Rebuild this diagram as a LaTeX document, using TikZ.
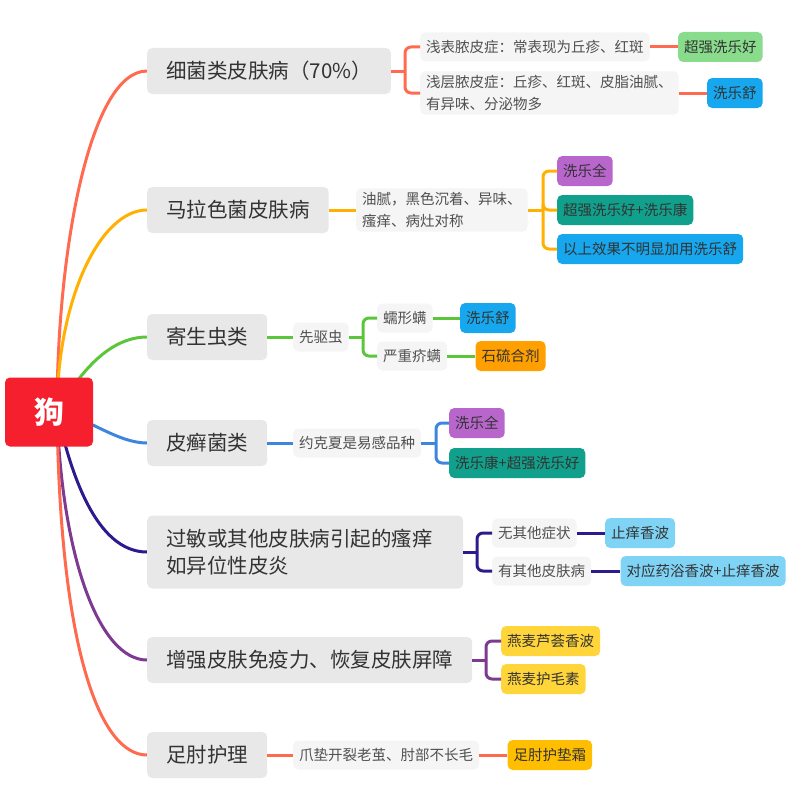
\documentclass[tikz,border=0pt]{standalone}
\usepackage{fontspec}
\setmainfont{Noto Sans CJK SC}
\usetikzlibrary{positioning,backgrounds}
\definecolor{rootred}{HTML}{F51F2E}
\definecolor{topicgray}{HTML}{E8E8E8}
\definecolor{subgray}{HTML}{F5F5F5}
\definecolor{textdark}{HTML}{333333}
\definecolor{textmid}{HTML}{505050}
\definecolor{c1}{HTML}{FF6A50}
\definecolor{c2}{HTML}{FFB000}
\definecolor{c3}{HTML}{5CC63A}
\definecolor{c4}{HTML}{3D85DE}
\definecolor{c5}{HTML}{2D1B8E}
\definecolor{c6}{HTML}{7E3990}
\definecolor{c7}{HTML}{FF6A4F}
\definecolor{lgreen}{HTML}{88DC8C}
\definecolor{lblue}{HTML}{16A7EE}
\definecolor{lpurple}{HTML}{B866CC}
\definecolor{lteal}{HTML}{11A08C}
\definecolor{lsky}{HTML}{7FD4F6}
\definecolor{lyellow}{HTML}{FFD53A}
\definecolor{lamber}{HTML}{FFBF00}
\definecolor{lorange}{HTML}{FFA000}
\tikzset{base/.style={rounded corners=5pt,anchor=west,inner ysep=4pt}}
\tikzset{root/.style={base,anchor=center,fill=rootred,text=white,
                      minimum width=88pt,minimum height=69pt,
                      font=\fontsize{30}{30}\selectfont\bfseries}}
\tikzset{topic/.style={base,fill=topicgray,text=textdark,inner xsep=19pt,
                       minimum height=46pt,font=\fontsize{20.5}{27}\selectfont}}
\tikzset{sub/.style={base,fill=subgray,text=textmid,inner xsep=6pt,
                     minimum height=29pt,align=left,font=\fontsize{14.5}{22}\selectfont}}
\tikzset{leaf/.style={base,text=textdark,inner xsep=6pt,
                      minimum height=30pt,font=\fontsize{14.5}{22}\selectfont}}
\tikzset{link/.style={line width=3pt}}
\tikzset{fork/.style={link,rounded corners=6pt}}

\begin{document}
\begin{tikzpicture}[x=1pt,y=-1pt]
\useasboundingbox (0,0) rectangle (800,800);

    % root
    \node[root] (dog) at (49,412) {狗};
    \coordinate (o) at ([xshift=8pt]dog.center);

    % main topics
    \node[topic] (b1) at (147,71) {细菌类皮肤病（70\%）};
    \node[topic] (b2) at (147,210) {马拉色菌皮肤病};
    \node[topic] (b3) at (147,337) {寄生虫类};
    \node[topic] (b4) at (147,443) {皮癣菌类};
    \node[topic,text width=278pt,align=left,minimum height=73pt] (b5) at (147,552)
        {过敏或其他皮肤病引起的瘙痒\\如异位性皮炎};
    \node[topic] (b6) at (147,660) {增强皮肤免疫力、恢复皮肤屏障};
    \node[topic] (b7) at (147,755) {足肘护理};

    % bacteria
    \node[sub] (s11) at (420,47) {浅表脓皮症：常表现为丘疹、红斑};
    \node[sub] (s12) at (420,93) {浅层脓皮症：丘疹、红斑、皮脂油腻、\\有异味、分泌物多};
    \node[leaf,fill=lgreen,right=28pt of s11] (l11) {超强洗乐好};
    \node[leaf,fill=lblue,right=28pt of s12] (l12) {洗乐舒};
    \coordinate (k1) at (405,71);
    \draw[link,c1] (b1.east) -- (k1);
    \foreach \s in {s11,s12} \draw[fork,c1] (k1) |- (\s.west);
    \draw[link,c1] (s11) -- (l11);
    \draw[link,c1] (s12) -- (l12);

    % malassezia
    \node[sub] (s21) at (356,210) {油腻，黑色沉着、异味、\\瘙痒、病灶对称};
    \node[leaf,fill=lpurple] (l21) at (557,171) {洗乐全};
    \node[leaf,fill=lteal] (l22) at (557,210) {超强洗乐好+洗乐康};
    \node[leaf,fill=lblue] (l23) at (557,249) {以上效果不明显加用洗乐舒};
    \coordinate (k2) at (543,210);
    \draw[link,c2] (b2) -- (s21);
    \draw[link,c2] (s21.east) -- (k2);
    \foreach \l in {l21,l22,l23} \draw[fork,c2] (k2) |- (\l.west);

    % parasites
    \node[sub] (s31) at (293,337) {先驱虫};
    \node[sub] (s32) at (377,318) {蠕形螨};
    \node[sub] (s33) at (377,356) {严重疥螨};
    \node[leaf,fill=lblue,right=27pt of s32] (l31) {洗乐舒};
    \node[leaf,fill=lorange,right=28pt of s33] (l32) {石硫合剂};
    \coordinate (k3) at (363,337);
    \draw[link,c3] (b3) -- (s31);
    \draw[link,c3] (s31.east) -- (k3);
    \foreach \s in {s32,s33} \draw[fork,c3] (k3) |- (\s.west);
    \draw[link,c3] (s32) -- (l31);
    \draw[link,c3] (s33) -- (l32);

    % dermatophytes
    \node[sub] (s41) at (293,443) {约克夏是易感品种};
    \node[leaf,fill=lpurple] (l41) at (449,423) {洗乐全};
    \node[leaf,fill=lteal] (l42) at (449,463) {洗乐康+超强洗乐好};
    \coordinate (k4) at (436,443);
    \draw[link,c4] (b4) -- (s41);
    \draw[link,c4] (s41.east) -- (k4);
    \foreach \l in {l41,l42} \draw[fork,c4] (k4) |- (\l.west);

    % allergy
    \node[sub] (s51) at (492,533) {无其他症状};
    \node[sub] (s52) at (492,571) {有其他皮肤病};
    \node[leaf,fill=lsky,right=28pt of s51] (l51) {止痒香波};
    \node[leaf,fill=lsky,right=29pt of s52] (l52) {对应药浴香波+止痒香波};
    \coordinate (k5) at (477,552);
    \draw[link,c5] (b5.east) -- (k5);
    \foreach \s in {s51,s52} \draw[fork,c5] (k5) |- (\s.west);
    \draw[link,c5] (s51) -- (l51);
    \draw[link,c5] (s52) -- (l52);

    % barrier
    \node[leaf,fill=lyellow] (l61) at (501,641) {燕麦芦荟香波};
    \node[leaf,fill=lyellow] (l62) at (501,679) {燕麦护毛素};
    \coordinate (k6) at (486,660);
    \draw[link,c6] (b6.east) -- (k6);
    \foreach \l in {l61,l62} \draw[fork,c6] (k6) |- (\l.west);

    % paws
    \node[sub] (s71) at (293,755) {爪垫开裂老茧、肘部不长毛};
    \node[leaf,fill=lamber,right=28pt of s71] (l71) {足肘护垫霜};
    \draw[link,c7] (b7) -- (s71);
    \draw[link,c7] (s71) -- (l71);

    % branches from the root
    \begin{scope}[on background layer]
    \draw[link,c1] (o) .. controls +(0,-162) and +(-57,0) .. (b1.west);
    \draw[link,c2] (o) .. controls +(0,-112) and +(-47,0) .. (b2.west);
    \draw[link,c3] (o) .. controls +(20,-35) and +(-40,0) .. (b3.west);
    \draw[link,c4] (o) .. controls +(30,5) and +(-30,0) .. (b4.west);
    \draw[link,c5] (o) .. controls +(13,58) and +(-52,0) .. (b5.west);
    \draw[link,c6] (o) .. controls +(5,148) and +(-47,0) .. (b6.west);
    \draw[link,c7] (o) .. controls +(3,238) and +(-47,0) .. (b7.west);
    \end{scope}
\end{tikzpicture}
\end{document}
